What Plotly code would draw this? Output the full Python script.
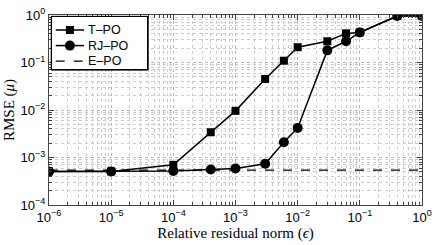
import plotly.graph_objects as go

# Data
eps = [1e-6, 1e-5, 1e-4, 4e-4, 1e-3, 3e-3, 6e-3, 1e-2, 3e-2, 6e-2, 1e-1, 4e-1, 1.0]
t_po = [5.1e-4, 5.1e-4, 7.0e-4, 3.4e-3, 9.6e-3, 0.045, 0.109, 0.21, 0.28, 0.41, 0.43, 0.95, 0.95]
rj_po = [5.1e-4, 5.1e-4, 5.2e-4, 5.6e-4, 5.9e-4, 7.4e-4, 2.1e-3, 4.2e-3, 0.18, 0.28, 0.43, 0.95, 0.95]
e_po_level = 5.4e-4
e_po_x = [1e-6, 1.0]
e_po = [e_po_level, e_po_level]

series_names = ["T–PO", "RJ–PO", "E–PO"]

x_tickvals = [1e-6, 1e-5, 1e-4, 1e-3, 1e-2, 1e-1, 1.0]
x_ticktext = ["10<sup>−6</sup>", "10<sup>−5</sup>", "10<sup>−4</sup>", "10<sup>−3</sup>",
              "10<sup>−2</sup>", "10<sup>−1</sup>", "10<sup>0</sup>"]
y_tickvals = [1e-4, 1e-3, 1e-2, 1e-1, 1.0]
y_ticktext = ["10<sup>−4</sup>", "10<sup>−3</sup>", "10<sup>−2</sup>", "10<sup>−1</sup>", "10<sup>0</sup>"]

fig = go.Figure()
fig.add_trace(go.Scatter(x=eps, y=t_po, name=series_names[0], mode="lines+markers",
                         line=dict(color="black", width=1.5),
                         marker=dict(symbol="square", size=8, color="black")))
fig.add_trace(go.Scatter(x=eps, y=rj_po, name=series_names[1], mode="lines+markers",
                         line=dict(color="black", width=1.5),
                         marker=dict(symbol="circle", size=10, color="black")))
fig.add_trace(go.Scatter(x=e_po_x, y=e_po, name=series_names[2], mode="lines",
                         line=dict(color="black", width=1.3, dash="dash")))

axis_common = dict(
    type="log", automargin=False,
    showline=True, linecolor="#444", linewidth=1, mirror="ticks",
    ticks="inside", ticklen=5, tickcolor="#444",
    showgrid=True, gridcolor="#b8b8b8", griddash="dot", gridwidth=1,
    zeroline=False,
    tickfont=dict(family="Liberation Sans, Arial", size=13, color="black"),
    minor=dict(ticks="inside", ticklen=3, tickcolor="#444", dtick="D1",
               showgrid=True, gridcolor="#cccccc", griddash="dot", gridwidth=1),
)

fig.update_xaxes(**axis_common, range=[-6, 0], tickvals=x_tickvals, ticktext=x_ticktext,
                 title=dict(text="Relative residual norm (<i>ϵ</i>)", standoff=3,
                            font=dict(family="Liberation Serif, DejaVu Serif", size=15, color="black")))
fig.update_yaxes(**axis_common, range=[-4, 0], tickvals=y_tickvals, ticktext=y_ticktext,
                 title=dict(text="RMSE (<i>μ</i>)", standoff=2,
                            font=dict(family="Liberation Serif, DejaVu Serif", size=15, color="black")))

# Compact MATLAB-style legend box (layout only)
bx0, bx1, by0, by1 = 0.006, 0.266, 0.71, 0.993
shapes = [dict(type="rect", xref="paper", yref="paper", x0=bx0, x1=bx1, y0=by0, y1=by1,
               line=dict(color="black", width=1), fillcolor="white", opacity=1, layer="above")]
annotations = [dict(xref="paper", yref="paper", x=bx0, y=by1, xanchor="left", yanchor="top",
                    text=" ", showarrow=False, width=95, height=52, borderpad=0,
                    bordercolor="black", borderwidth=1, bgcolor="rgba(0,0,0,0)")]
legend_rows = [0.921, 0.839, 0.757]
line_x0, line_x1, mark_x, text_x = 0.018, 0.094, 0.056, 0.100
styles = [("square", "solid"), ("circle", "solid"), (None, "dash")]
for name, ry, (sym, dash) in zip(series_names, legend_rows, styles):
    shapes.append(dict(type="line", xref="paper", yref="paper", x0=line_x0, x1=line_x1, y0=ry, y1=ry,
                       line=dict(color="black", width=1.5 if dash == "solid" else 1.3, dash=dash),
                       layer="above"))
    if sym is not None:
        half = 4 if sym == "square" else 5
        shapes.append(dict(type="rect" if sym == "square" else "circle",
                           xref="paper", yref="paper", xsizemode="pixel", ysizemode="pixel",
                           xanchor=mark_x, yanchor=ry, x0=-half, x1=half, y0=-half, y1=half,
                           fillcolor="black", line=dict(color="black", width=0), layer="above"))
    annotations.append(dict(xref="paper", yref="paper", x=text_x, y=ry, text=name,
                            showarrow=False, xanchor="left", yanchor="middle",
                            font=dict(family="Liberation Sans, Arial", size=12.5, color="black")))

fig.update_layout(
    width=436, height=245,
    margin=dict(l=49, r=14, t=15, b=40, autoexpand=False),
    paper_bgcolor="white", plot_bgcolor="white",
    showlegend=False,
    shapes=shapes, annotations=annotations,
)

fig.write_html("out.html", config={"displayModeBar": False},
               post_script="document.body.style.margin='0px';document.body.style.overflow='hidden';")
